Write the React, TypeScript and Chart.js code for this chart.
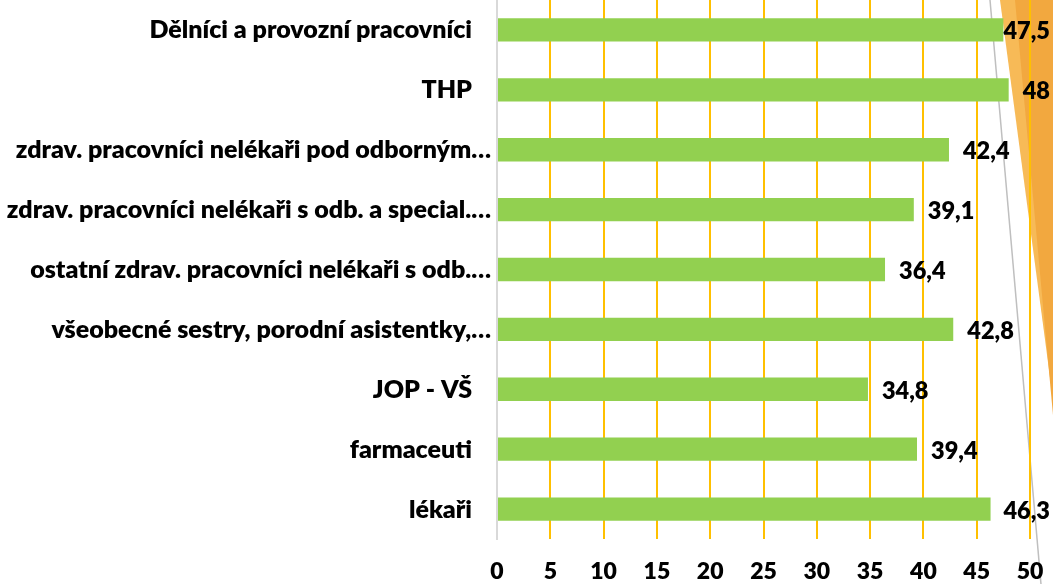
import React, { useEffect, useRef } from "react";
import { Chart, registerables } from "chart.js";

Chart.register(...registerables);

// Categories listed top to bottom as shown
const categories: string[] = [
  "Dělníci a provozní pracovníci",
  "THP",
  "zdrav. pracovníci nelékaři pod odborným…",
  "zdrav. pracovníci nelékaři s odb. a special.…",
  "ostatní zdrav. pracovníci nelékaři s odb.…",
  "všeobecné sestry, porodní asistentky,…",
  "JOP - VŠ",
  "farmaceuti",
  "lékaři",
];

const values: number[] = [47.5, 48, 42.4, 39.1, 36.4, 42.8, 34.8, 39.4, 46.3];

const xMin = 0;
const xMax = 50;
const xStep = 5;

const FONT = "Lato, 'Open Sans', sans-serif";
const WEIGHT = "800";
const fmt = (v: number) => String(v).replace(".", ",");

const decorPlugin = {
  id: "decor",
  beforeDraw(chart: any) {
    const ctx = chart.ctx as CanvasRenderingContext2D;
    const W = chart.width;
    ctx.save();
    ctx.fillStyle = "#F7BA57";
    ctx.beginPath();
    ctx.moveTo(W - 53, 0);
    ctx.lineTo(W, 0);
    ctx.lineTo(W, 400);
    ctx.closePath();
    ctx.fill();
    ctx.fillStyle = "#F2A83F";
    ctx.beginPath();
    ctx.moveTo(W - 38, 0);
    ctx.lineTo(W, 0);
    ctx.lineTo(W, 415);
    ctx.closePath();
    ctx.fill();
    ctx.strokeStyle = "#BFBFBF";
    ctx.lineWidth = 1.5;
    ctx.beginPath();
    ctx.moveTo(W - 63, 0);
    ctx.lineTo(W - 12, chart.height);
    ctx.stroke();
    ctx.restore();
  },
};

const labelPlugin = {
  id: "labels",
  afterDraw(chart: any) {
    const ctx = chart.ctx as CanvasRenderingContext2D;
    const yScale = chart.scales.y;
    ctx.save();
    ctx.fillStyle = "#000000";
    ctx.textBaseline = "alphabetic";
    ctx.font = `${WEIGHT} 25px ${FONT}`;
    ctx.textAlign = "right";
    categories.forEach((c, i) => {
      const y = yScale.getPixelForValue(i);
      const right = c.endsWith("…") ? yScale.right - 6 : yScale.right - 25;
      ctx.fillText(c, right, y + 8.5);
    });
    ctx.font = `${WEIGHT} 23.5px ${FONT}`;
    ctx.textAlign = "left";
    const meta = chart.getDatasetMeta(0);
    meta.data.forEach((bar: any, i: number) => {
      const txt = fmt(values[i]);
      const w = ctx.measureText(txt).width;
      let x = bar.x + 14;
      if (x + w > chart.width - 3) x = chart.width - 3 - w;
      ctx.fillText(txt, x, bar.y + 9.5);
    });
    ctx.restore();
  },
};

export default function App() {
  const ref = useRef<HTMLCanvasElement | null>(null);
  useEffect(() => {
    if (!ref.current) return;
    const chart = new Chart(ref.current, {
      type: "bar",
      data: {
        labels: categories,
        datasets: [
          {
            data: values,
            backgroundColor: "#92D050",
            borderWidth: 0,
            barPercentage: 0.39,
            categoryPercentage: 1,
          },
        ],
      },
      options: {
        indexAxis: "y",
        animation: false,
        responsive: false,
        layout: { padding: { left: 0, right: 23, top: 0, bottom: 0 } },
        plugins: {
          legend: { display: false },
          tooltip: { enabled: false },
        },
        scales: {
          x: {
            min: xMin,
            max: xMax,
            ticks: {
              stepSize: xStep,
              color: "#000000",
              font: { family: FONT, size: 23, weight: WEIGHT as any },
              padding: 19,
            },
            grid: {
              color: (c: any) => (c.tick && c.tick.value === 0 ? "rgba(0,0,0,0)" : "#FFC000"),
              lineWidth: 2,
              drawTicks: false,
            },
            border: { display: false },
            afterFit: (s: any) => {
              s.height = 45;
              s.paddingLeft = 0;
              s.paddingRight = 0;
            },
          },
          y: {
            ticks: { display: false },
            grid: { display: false, drawTicks: false },
            border: { display: true, color: "#D9D9D9", width: 2 },
            afterFit: (s: any) => {
              s.width = 497;
              s.paddingTop = 0;
              s.paddingBottom = 0;
            },
          },
        },
      },
      plugins: [decorPlugin, labelPlugin],
    });
    return () => chart.destroy();
  }, []);
  return (
    <div style={{ position: "fixed", left: 0, top: 0, width: 1053, height: 584, background: "#fff" }}>
      <canvas ref={ref} width={1053} height={584} />
    </div>
  );
}
